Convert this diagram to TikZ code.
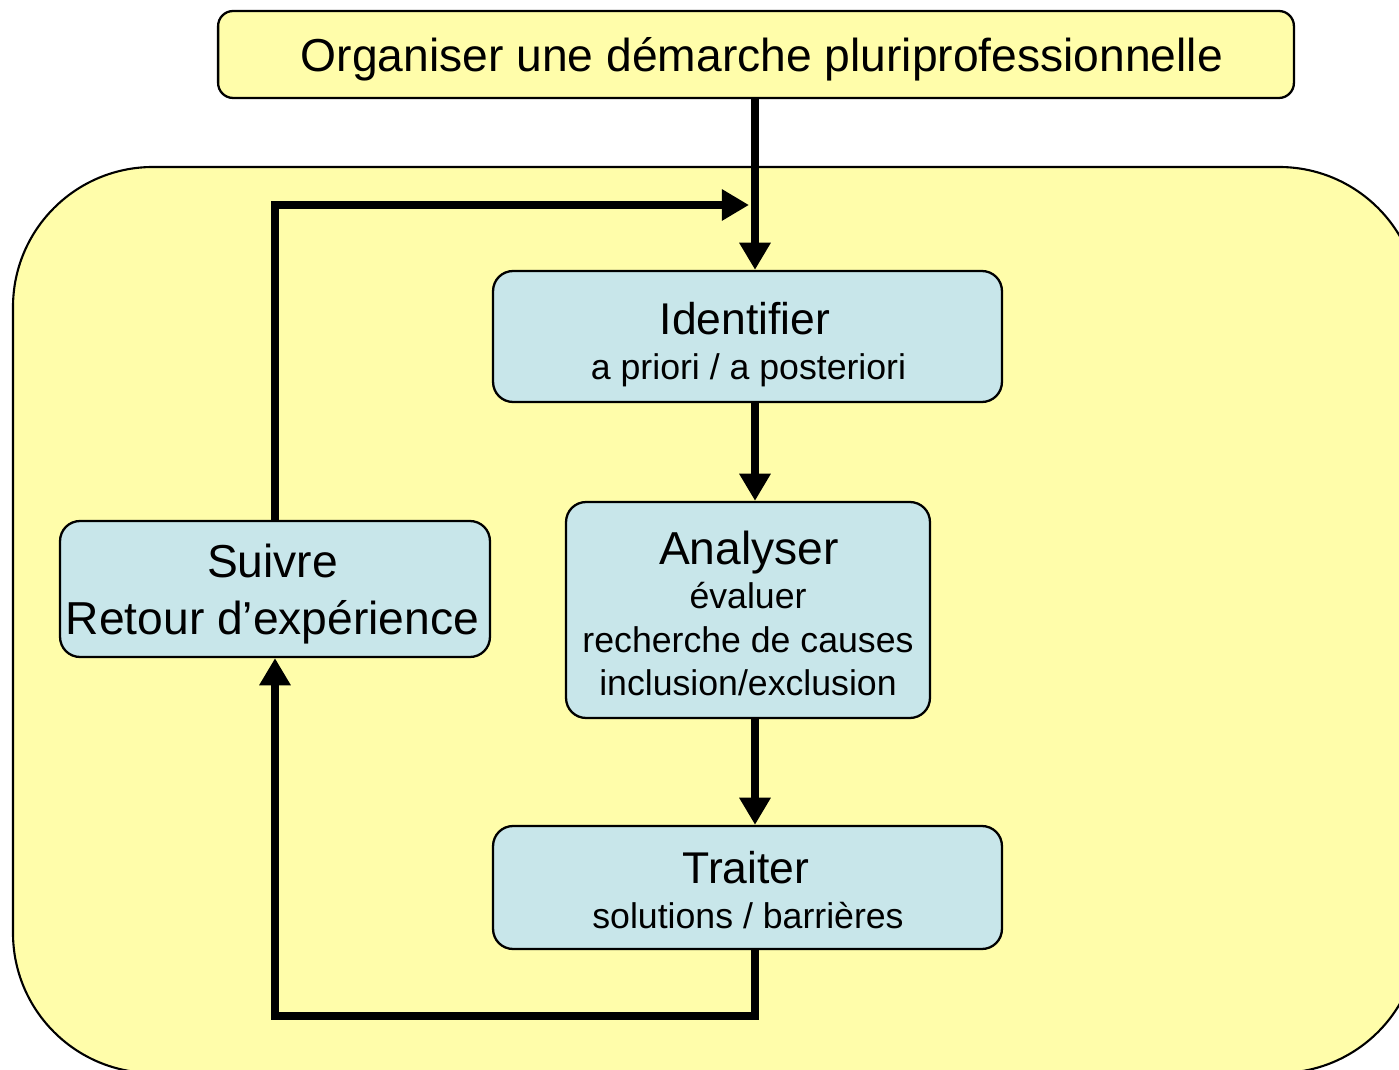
\documentclass[tikz,border=0pt]{standalone}
\usepackage{fontspec}
\setmainfont{Liberation Sans}
\usetikzlibrary{arrows.meta}
\definecolor{paleyellow}{HTML}{FFFDAA}
\definecolor{paleblue}{HTML}{C8E6EA}
\begin{document}
\begin{tikzpicture}[x=0.02cm,y=-0.02cm,
  box/.style={draw=black, line width=1.3pt, fill=paleblue, rounded corners=0.4cm, inner sep=0pt},
  big/.style={anchor=base, inner sep=0pt, font=\fontsize{26.3}{30}\selectfont},
  mid/.style={anchor=base, inner sep=0pt, font=\fontsize{25.3}{30}\selectfont},
  small/.style={anchor=base, inner sep=0pt, font=\fontsize{20.3}{24}\selectfont},
  flow/.style={line width=4.5pt, -{Triangle[length=15.5pt,width=17pt]}},
  ]
\useasboundingbox (0,0) rectangle (1399,1070);
\clip (0,0) rectangle (1399,1070);
% outer frame
\draw[line width=1.2pt, fill=paleyellow, rounded corners=2.8cm] (13,167) rectangle (1419,1073);
% title box
\node[box, fill=paleyellow, rounded corners=0.3cm, minimum width=21.52cm, minimum height=1.74cm] (top) at (756,54.5) {};
\node[big] (ttl) at (762,72) {Organiser une démarche pluriprofessionnelle};
% Identifier
\node[box, minimum width=10.18cm, minimum height=2.62cm] (ident) at (747.5,336.5) {};
\node[mid] (identT) at (745,335) {Identifier};
\node[small] (identS) at (748.5,380) {a priori / a posteriori};
% Analyser
\node[box, minimum width=7.28cm, minimum height=4.32cm] (anal) at (748,610) {};
\node[big] (analT) at (749,565) {Analyser};
\node[small] (analA) at (748,608) {évaluer};
\node[small] (analB) at (748,652) {recherche de causes};
\node[small] (analC) at (748,695) {inclusion/exclusion};
% Traiter
\node[box, minimum width=10.18cm, minimum height=2.46cm] (trait) at (747.5,887.5) {};
\node[mid] (traitT) at (746,883) {Traiter};
\node[small] (traitS) at (748,928) {solutions / barrières};
% Suivre
\node[box, minimum width=8.6cm, minimum height=2.72cm] (suiv) at (275,589) {};
\node[big] (suivT) at (272.5,578) {Suivre};
\node[big] (suivR) at (272.5,634) {Retour d’expérience};
% connectors
\coordinate (j) at (755,205);
\coordinate (merge) at (749,205);
\coordinate (bot) at (755,1016);
\draw[flow] (suiv.north) |- (merge);
\draw[flow] (top.south -| j) -- (ident.north -| j);
\draw[flow] (ident.south -| j) -- (anal.north -| j);
\draw[flow] (anal.south -| j) -- (trait.north -| j);
\draw[flow] (trait.south -| bot) -- (bot) -| (suiv.south);
\end{tikzpicture}
\end{document}
